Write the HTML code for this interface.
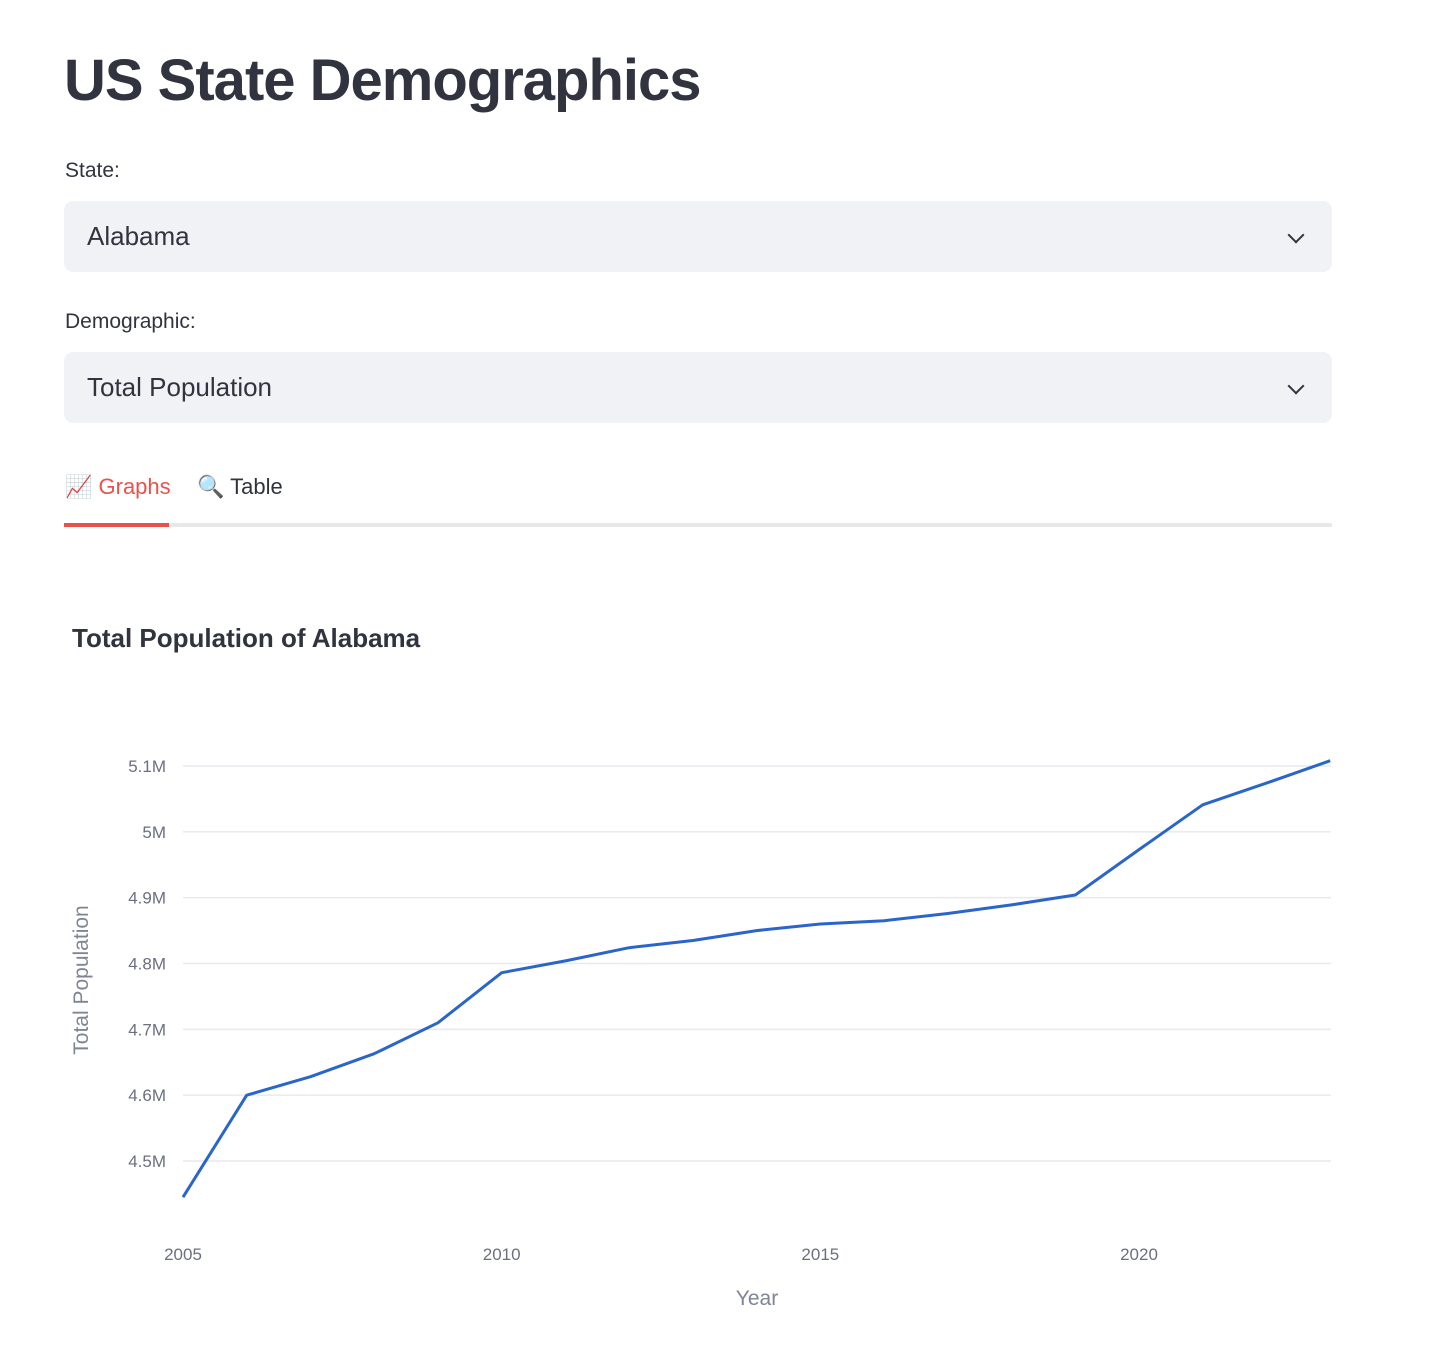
<!DOCTYPE html>
<html><head><meta charset="utf-8"><style>
body{margin:0;background:#fff;font-family:"Liberation Sans",sans-serif;color:#31333f;width:1440px;height:1346px;position:relative;overflow:hidden}
.abs{position:absolute}
h1{position:absolute;left:64px;top:47px;margin:0;font-size:58px;font-weight:bold;letter-spacing:-1px;color:#31333f}
.lbl{position:absolute;left:65px;font-size:21px}
.sel{position:absolute;left:64px;width:1268px;height:71px;background:#f0f2f6;border-radius:9px;font-size:26px;line-height:71px;box-sizing:border-box;padding-left:23px}
.chev{position:absolute;right:30px;top:28px;width:10px;height:10px;border-right:2.5px solid #31333f;border-bottom:2.5px solid #31333f;transform:rotate(45deg)}
</style></head><body>
<h1>US State Demographics</h1>
<div class="lbl" style="top:159px">State:</div>
<div class="sel" style="top:201px">Alabama<div class="chev"></div></div>
<div class="lbl" style="top:310px">Demographic:</div>
<div class="sel" style="top:352px">Total Population<div class="chev"></div></div>
<div class="abs" style="left:65px;top:474px;font-size:22px;color:#e9524a">📈 Graphs</div>
<div class="abs" style="left:197px;top:474px;font-size:22px">🔍 Table</div>
<div class="abs" style="left:64px;top:523px;width:1268px;height:4px;background:#e8e8ea"></div>
<div class="abs" style="left:64px;top:523px;width:105px;height:4px;background:#e9524a"></div>
<svg class="abs" style="left:0;top:560px" width="1440" height="786" id="chart"></svg>
<script>
const years=[2005,2006,2007,2008,2009,2010,2011,2012,2013,2014,2015,2016,2017,2018,2019,2020,2021,2022,2023];
const population=[4.445,4.600,4.628,4.663,4.710,4.786,4.804,4.824,4.835,4.850,4.860,4.865,4.876,4.889,4.904,4.973,5.041,5.074,5.108];
const yTicks=[4.5,4.6,4.7,4.8,4.9,5.0,5.1];
const yTickLabels=["4.5M","4.6M","4.7M","4.8M","4.9M","5M","5.1M"];
const xTicks=[2005,2010,2015,2020];
const svg=document.getElementById('chart');
const NS='http://www.w3.org/2000/svg';
const OY=560;
function sx(v){return 183+(v-2005)*(1139-183)/15;}
function sy(v){return 1161-OY-(v-4.5)*(1161-766)/0.6;}
function mk(t,a,txt){const e=document.createElementNS(NS,t);for(const k in a)e.setAttribute(k,a[k]);if(txt!=null)e.textContent=txt;svg.appendChild(e);return e;}
let e=mk('text',{x:72,y:87,'font-size':26,'font-weight':'bold',fill:'#31333f','font-family':'Liberation Sans'},'Total Population of Alabama');


yTicks.forEach((t,i)=>{
 const g=mk('line',{x1:183,x2:1331,y1:sy(t),y2:sy(t),stroke:'#e6e9ef','stroke-width':1.5});
 
 
 const l=mk('text',{x:166,y:sy(t)+6,'text-anchor':'end','font-size':17,fill:'#6b6f80','font-family':'Liberation Sans'},yTickLabels[i]);
 
 
});
xTicks.forEach(t=>{
 const l=mk('text',{x:sx(t),y:700,'text-anchor':'middle','font-size':17,fill:'#6b6f80','font-family':'Liberation Sans'},String(t));
 
 
});
e=mk('text',{x:757,y:745,'text-anchor':'middle','font-size':21,fill:'#808495','font-family':'Liberation Sans'},'Year');


e=mk('text',{x:0,y:0,'text-anchor':'middle','font-size':21,fill:'#808495','font-family':'Liberation Sans',transform:'translate(88,420) rotate(-90)'},'Total Population');


const d=years.map((y,i)=>(i?'L':'M')+sx(y).toFixed(1)+','+sy(population[i]).toFixed(1)).join(' ');
e=mk('path',{d:d,fill:'none',stroke:'#2a66c9','stroke-width':3,'stroke-linejoin':'round'});


</script>
</body></html>
